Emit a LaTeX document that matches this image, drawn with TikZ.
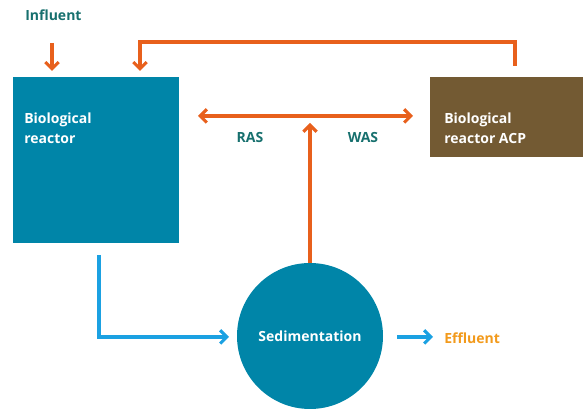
\documentclass[tikz,border=0pt]{standalone}
\usepackage{fontspec}
\setmainfont{Open Sans}
\usetikzlibrary{arrows.meta}
\definecolor{reactorblue}{HTML}{0085A8}
\definecolor{acpbrown}{HTML}{735A33}
\definecolor{flow}{HTML}{E8601C}
\definecolor{water}{HTML}{1BA1E2}
\definecolor{tealtext}{HTML}{17706E}
\definecolor{outtext}{HTML}{F29A1C}
\tikzset{
  barb/.tip={Straight Barb[length=5pt,width=10pt,line width=2.3pt]},
  box/.style={fill=#1, draw=none, inner sep=0pt},
  label/.style={font=\bfseries\fontsize{10.5}{13}\selectfont, text=tealtext, inner sep=0pt},
  inbox/.style={font=\bfseries\fontsize{10.5}{15}\selectfont, text=white, align=left, anchor=west, inner sep=0pt},
  pipe/.style={line width=2.3pt, -barb},
}
\begin{document}
\begin{tikzpicture}[x=0.75pt, y=-0.75pt]
    \useasboundingbox (0,0) rectangle (583,409);

    % Becken
    \node[box=reactorblue, minimum width=124.5pt, minimum height=124.5pt, anchor=north west] (R) at (13,77) {};
    \node[box=acpbrown, minimum width=114.75pt, minimum height=60pt, anchor=north west] (ACP) at (430,77) {};
    \node[circle, box=reactorblue, minimum size=109.5pt] (S) at (310,336) {};

    % Texte
    \node[inbox] (Rt) at (24,128) {Biological\\reactor};
    \node[inbox] (ACPt) at (444,128) {Biological\\reactor ACP};
    \node[font=\bfseries\fontsize{10.5}{13}\selectfont, text=white] (St) at (S) {Sedimentation};
    \node[label, anchor=west] (In) at (25,15) {Influent};
    \node[label] (RAS) at (250,138) {RAS};
    \node[label] (WAS) at (363,138) {WAS};
    \node[font=\bfseries\fontsize{10.5}{13}\selectfont, text=outtext, anchor=west, inner sep=0pt] (Out) at (444,338) {Effluent};

    % Hilfspunkte
    \coordinate (i1) at (52,43);
    \coordinate (i2) at (52,71);
    \coordinate (r0) at (515,66);
    \coordinate (r1) at (140,71);
    \coordinate (h1) at (198,116);
    \coordinate (h2) at (413,116);
    \coordinate (hm) at (310,123);
    \coordinate (b0) at (99,255);
    \coordinate (b1) at (229,337);
    \coordinate (e0) at (397,337);
    \coordinate (e1) at (433,337);

    % Linien
    \draw[pipe, flow] (i1) -- (i2);
    \draw[pipe, flow] (r0) |- (140,42) -- (r1);
    \draw[pipe, flow, barb-barb] (h1) -- (h2);
    \draw[pipe, flow] (S.north) -- (hm);
    \draw[pipe, water] (b0) |- (b1);
    \draw[pipe, water] (e0) -- (e1);
  \end{tikzpicture}
\end{document}
